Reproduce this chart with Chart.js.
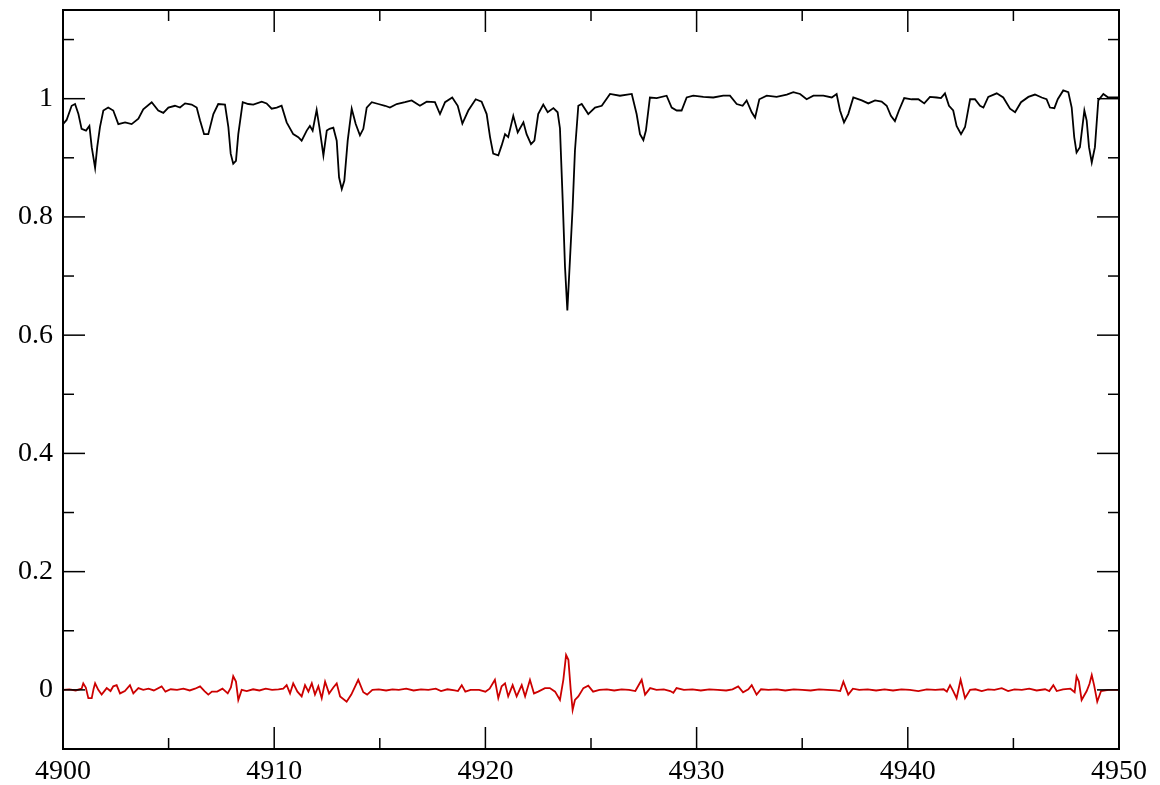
<!DOCTYPE html>
<html>
<head>
<meta charset="utf-8">
<script src="https://cdn.jsdelivr.net/npm/chart.js@4.4.0/dist/chart.umd.min.js"></script>
<style>
  body { margin: 0; background: #fff; }
  #wrap { width: 1160px; height: 785px; }
</style>
</head>
<body>
<div id="wrap"><canvas id="spec" width="1160" height="785"></canvas></div>
<script>
// Observed spectrum (black)
const blackWave = [4900.00,4900.17,4900.41,4900.57,4900.73,4900.88,4901.09,4901.25,4901.36,4901.52,4901.62,4901.75,4901.91,4902.14,4902.38,4902.62,4902.94,4903.25,4903.57,4903.80,4904.20,4904.51,4904.75,4904.99,4905.30,4905.54,4905.78,4906.09,4906.33,4906.49,4906.68,4906.88,4907.12,4907.35,4907.67,4907.83,4907.94,4908.06,4908.19,4908.30,4908.51,4908.77,4909.01,4909.41,4909.64,4909.88,4910.12,4910.35,4910.59,4910.90,4911.14,4911.30,4911.54,4911.69,4911.82,4912.01,4912.14,4912.33,4912.49,4912.62,4912.80,4912.96,4913.07,4913.20,4913.32,4913.48,4913.67,4913.86,4914.06,4914.22,4914.38,4914.62,4914.93,4915.25,4915.48,4915.80,4916.19,4916.51,4916.90,4917.22,4917.61,4917.85,4918.09,4918.43,4918.69,4918.91,4919.19,4919.54,4919.82,4920.06,4920.22,4920.37,4920.61,4920.77,4920.93,4921.08,4921.32,4921.53,4921.80,4921.95,4922.16,4922.32,4922.50,4922.74,4922.95,4923.22,4923.42,4923.53,4923.66,4923.77,4923.88,4924.01,4924.13,4924.24,4924.40,4924.56,4924.87,4925.19,4925.51,4925.90,4926.37,4926.93,4927.16,4927.32,4927.48,4927.60,4927.79,4928.11,4928.58,4928.82,4929.06,4929.29,4929.53,4929.84,4930.32,4930.79,4931.26,4931.58,4931.90,4932.18,4932.37,4932.61,4932.77,4932.97,4933.32,4933.79,4934.27,4934.58,4934.90,4935.21,4935.53,4936.00,4936.40,4936.63,4936.79,4936.98,4937.18,4937.42,4937.82,4938.13,4938.45,4938.76,4939.00,4939.20,4939.39,4939.58,4939.83,4940.18,4940.50,4940.78,4941.05,4941.37,4941.57,4941.76,4941.95,4942.15,4942.31,4942.52,4942.71,4942.95,4943.18,4943.42,4943.58,4943.81,4944.21,4944.52,4944.84,4945.08,4945.36,4945.71,4946.02,4946.34,4946.57,4946.73,4946.94,4947.10,4947.36,4947.60,4947.76,4947.88,4947.99,4948.15,4948.36,4948.47,4948.58,4948.71,4948.86,4949.02,4949.26,4949.49,4949.73,4950.00];
const blackFlux = [0.957,0.964,0.988,0.991,0.974,0.949,0.946,0.954,0.918,0.883,0.918,0.952,0.980,0.985,0.980,0.957,0.960,0.957,0.966,0.982,0.994,0.980,0.976,0.985,0.988,0.985,0.992,0.990,0.985,0.963,0.940,0.940,0.974,0.991,0.990,0.952,0.907,0.890,0.895,0.940,0.994,0.991,0.990,0.995,0.992,0.983,0.985,0.988,0.960,0.940,0.935,0.929,0.946,0.954,0.946,0.981,0.952,0.904,0.946,0.949,0.951,0.929,0.867,0.847,0.861,0.929,0.983,0.957,0.938,0.949,0.985,0.994,0.991,0.988,0.985,0.991,0.994,0.997,0.988,0.995,0.994,0.974,0.994,1.002,0.988,0.958,0.980,0.999,0.995,0.974,0.935,0.907,0.904,0.921,0.940,0.935,0.971,0.943,0.960,0.940,0.923,0.929,0.974,0.990,0.977,0.984,0.977,0.950,0.828,0.715,0.642,0.732,0.816,0.912,0.988,0.991,0.974,0.985,0.988,1.008,1.005,1.008,0.974,0.940,0.930,0.946,1.002,1.001,1.005,0.985,0.980,0.980,1.002,1.005,1.003,1.002,1.005,1.005,0.991,0.988,0.997,0.977,0.968,0.999,1.005,1.003,1.007,1.011,1.008,0.999,1.005,1.005,1.002,1.008,0.980,0.960,0.974,1.002,0.997,0.992,0.997,0.995,0.988,0.971,0.962,0.980,1.001,0.999,0.999,0.992,1.003,1.002,1.001,1.009,0.988,0.980,0.954,0.940,0.952,0.999,0.999,0.988,0.985,1.003,1.009,1.002,0.983,0.977,0.994,1.003,1.007,1.002,0.999,0.985,0.984,0.999,1.014,1.011,0.985,0.935,0.909,0.918,0.980,0.963,0.918,0.892,0.918,0.997,1.008,1.002,1.002,1.002];

// Residuals (red)
const redWave = [4900.00,4900.30,4900.60,4900.88,4900.96,4901.08,4901.20,4901.36,4901.45,4901.52,4901.67,4901.83,4902.07,4902.25,4902.38,4902.54,4902.70,4902.93,4903.17,4903.33,4903.57,4903.80,4904.05,4904.30,4904.67,4904.85,4905.10,4905.40,4905.70,4906.00,4906.25,4906.49,4906.70,4906.88,4907.05,4907.30,4907.55,4907.80,4907.95,4908.06,4908.19,4908.30,4908.46,4908.70,4909.00,4909.30,4909.60,4909.90,4910.20,4910.43,4910.59,4910.75,4910.90,4911.10,4911.30,4911.46,4911.62,4911.78,4911.93,4912.09,4912.25,4912.41,4912.60,4912.80,4912.96,4913.12,4913.43,4913.65,4913.98,4914.22,4914.40,4914.65,4914.95,4915.30,4915.60,4915.90,4916.25,4916.60,4916.95,4917.30,4917.65,4917.90,4918.20,4918.55,4918.70,4918.88,4919.05,4919.30,4919.70,4920.00,4920.20,4920.45,4920.61,4920.77,4920.93,4921.08,4921.29,4921.48,4921.72,4921.88,4922.11,4922.30,4922.50,4922.82,4923.05,4923.30,4923.53,4923.69,4923.82,4923.93,4924.04,4924.13,4924.24,4924.40,4924.64,4924.87,4925.10,4925.40,4925.75,4926.10,4926.45,4926.80,4927.10,4927.40,4927.56,4927.80,4928.10,4928.45,4928.75,4928.90,4929.05,4929.40,4929.80,4930.20,4930.60,4931.00,4931.40,4931.70,4931.97,4932.20,4932.45,4932.61,4932.84,4933.05,4933.40,4933.80,4934.20,4934.60,4935.00,4935.40,4935.80,4936.20,4936.60,4936.80,4936.95,4937.18,4937.40,4937.70,4938.10,4938.50,4938.90,4939.30,4939.70,4940.10,4940.50,4940.90,4941.30,4941.70,4941.85,4942.00,4942.15,4942.31,4942.50,4942.71,4942.95,4943.20,4943.50,4943.80,4944.10,4944.45,4944.75,4945.05,4945.40,4945.75,4946.10,4946.50,4946.70,4946.89,4947.05,4947.35,4947.70,4947.90,4947.99,4948.10,4948.23,4948.47,4948.60,4948.71,4948.82,4948.97,4949.15,4949.50,4950.00];
const redFlux = [0.000,0.001,-0.001,0.002,0.011,0.004,-0.014,-0.014,0.002,0.011,0.000,-0.008,0.003,-0.002,0.006,0.008,-0.006,-0.002,0.008,-0.006,0.003,0.000,0.002,-0.001,0.006,-0.003,0.001,0.000,0.002,-0.001,0.002,0.006,-0.002,-0.008,-0.003,-0.003,0.002,-0.006,0.004,0.023,0.014,-0.017,0.000,-0.002,0.001,-0.001,0.002,0.000,0.001,0.002,0.008,-0.006,0.011,-0.003,-0.011,0.008,-0.003,0.011,-0.008,0.006,-0.014,0.014,-0.006,0.004,0.011,-0.011,-0.020,-0.008,0.017,-0.004,-0.008,0.000,0.001,-0.001,0.001,0.000,0.002,-0.001,0.001,0.000,0.002,-0.002,0.001,-0.001,-0.002,0.008,-0.003,0.000,0.000,-0.003,0.002,0.017,-0.014,0.006,0.011,-0.011,0.008,-0.011,0.008,-0.011,0.017,-0.006,-0.003,0.003,0.003,-0.003,-0.017,0.017,0.059,0.051,0.000,-0.034,-0.017,-0.011,0.003,0.007,-0.003,0.000,0.001,-0.001,0.001,0.000,-0.002,0.017,-0.008,0.003,0.000,0.001,-0.002,-0.005,0.003,0.000,0.001,-0.001,0.001,0.000,-0.001,0.001,0.006,-0.004,0.001,0.008,-0.008,0.001,0.000,0.001,-0.001,0.001,0.000,-0.001,0.001,0.000,-0.001,-0.002,0.014,-0.008,0.002,0.000,0.001,-0.001,0.001,-0.001,0.001,0.000,-0.002,0.001,0.000,0.001,-0.003,0.008,-0.002,-0.014,0.017,-0.014,0.000,0.001,-0.002,0.001,0.000,0.003,-0.002,0.001,0.000,0.002,-0.001,0.001,-0.002,0.008,-0.002,0.001,0.002,-0.004,0.023,0.014,-0.017,-0.002,0.010,0.025,0.008,-0.020,-0.002,0.000,0.000];

// Axes
const xMajorTicks = [4900, 4910, 4920, 4930, 4940, 4950];
const xMinorTicks = [4905, 4915, 4925, 4935, 4945];
const yMajorTicks = [0, 0.2, 0.4, 0.6, 0.8, 1];
const yMinorTicks = [0.1, 0.3, 0.5, 0.7, 0.9, 1.1];
const yTickLabels = ['0', '0.2', '0.4', '0.6', '0.8', '1'];

const serif = '"Liberation Serif", "Times New Roman", "DejaVu Serif", serif';

// frame + inward ticks on all four sides (xmgrace style)
const frameTicks = {
    id: 'frameTicks',
    afterDatasetsDraw(chart) {
        const {ctx, chartArea: a, scales: {x, y}} = chart;
        ctx.save();
        ctx.strokeStyle = '#000';
        ctx.lineWidth = 1.5;
        const tick = (x1, y1, x2, y2) => {
            ctx.beginPath(); ctx.moveTo(x1, y1); ctx.lineTo(x2, y2); ctx.stroke();
        };
        xMajorTicks.forEach(v => {
            const px = x.getPixelForValue(v);
            tick(px, a.bottom, px, a.bottom - 22);
            tick(px, a.top, px, a.top + 22);
        });
        xMinorTicks.forEach(v => {
            const px = x.getPixelForValue(v);
            tick(px, a.bottom, px, a.bottom - 11);
            tick(px, a.top, px, a.top + 11);
        });
        yMajorTicks.forEach(v => {
            const py = y.getPixelForValue(v);
            tick(a.left, py, a.left + 22, py);
            tick(a.right, py, a.right - 22, py);
        });
        yMinorTicks.forEach(v => {
            const py = y.getPixelForValue(v);
            tick(a.left, py, a.left + 11, py);
            tick(a.right, py, a.right - 11, py);
        });
        ctx.lineWidth = 2;
        ctx.strokeRect(a.left, a.top, a.right - a.left, a.bottom - a.top);
        ctx.restore();
    }
};

new Chart(document.getElementById('spec'), {
    type: 'line',
    data: {
        datasets: [
            {
                label: 'residual',
                data: redWave.map((w, i) => ({x: w, y: redFlux[i]})),
                borderColor: '#cc0000',
                borderWidth: 1.8,
                pointRadius: 0,
                tension: 0
            },
            {
                label: 'spectrum',
                data: blackWave.map((w, i) => ({x: w, y: blackFlux[i]})),
                borderColor: '#000000',
                borderWidth: 1.8,
                pointRadius: 0,
                tension: 0
            }
        ]
    },
    options: {
        responsive: false,
        animation: false,
        layout: { padding: { top: 10, right: 41, left: 0, bottom: 0 } },
        plugins: { legend: { display: false }, tooltip: { enabled: false } },
        scales: {
            x: {
                type: 'linear',
                min: 4900,
                max: 4950,
                afterBuildTicks: s => { s.ticks = xMajorTicks.map(v => ({value: v})); },
                afterFit: s => { s.height = 36; s.paddingLeft = 0; s.paddingRight = 0; },
                grid: { display: false, drawTicks: false },
                border: { display: false },
                ticks: {
                    padding: 6,
                    color: '#000',
                    font: { family: serif, size: 28 },
                    maxRotation: 0,
                    callback: v => String(v)
                }
            },
            y: {
                type: 'linear',
                min: -0.1,
                max: 1.15,
                afterBuildTicks: s => { s.ticks = yMajorTicks.map(v => ({value: v})); },
                afterFit: s => { s.width = 63; s.paddingTop = 0; s.paddingBottom = 0; },
                grid: { display: false, drawTicks: false },
                border: { display: false },
                ticks: {
                    padding: 10,
                    color: '#000',
                    font: { family: serif, size: 28 },
                    callback: (v, i) => yTickLabels[i]
                }
            }
        }
    },
    plugins: [frameTicks]
});
</script>
</body>
</html>
